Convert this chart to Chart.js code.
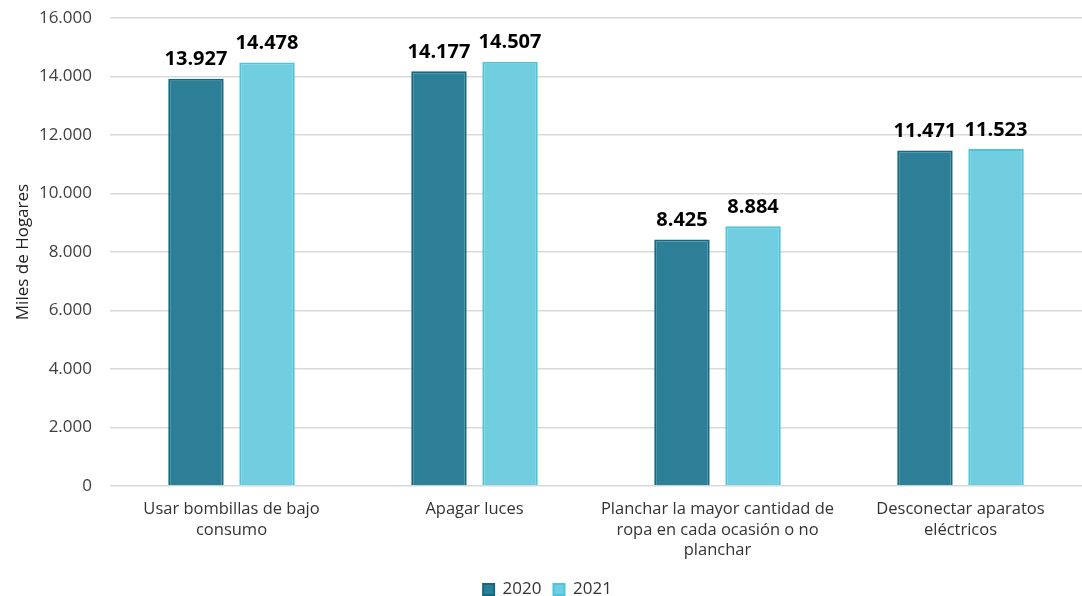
<!DOCTYPE html>
<html>
<head>
<meta charset="utf-8">
<script src="https://cdn.jsdelivr.net/npm/chart.js@4"></script>
<style>
  body { margin: 0; background: #fff; }
  #wrap { width: 1082px; height: 596px; }
</style>
</head>
<body>
<div id="wrap"><canvas id="myChart"></canvas></div>
<script>
const categories = [
    ["Usar bombillas de bajo", "consumo"],
    ["Apagar luces"],
    ["Planchar la mayor cantidad de", "ropa en cada ocasión o no", "planchar"],
    ["Desconectar aparatos", "eléctricos"]
];
const values2020 = [13927, 14177, 8425, 11471];
const values2021 = [14478, 14507, 8884, 11523];
const yTicks = [0, 2000, 4000, 6000, 8000, 10000, 12000, 14000, 16000];

// thousands separator with a dot
const fmt = v => String(v).replace(/\B(?=(\d{3})+(?!\d))/g, ".");

const barLabels = {
    id: "barLabels",
    afterDatasetsDraw(chart) {
        const ctx = chart.ctx;
        ctx.save();
        ctx.font = "bold 20px 'Open Sans'";
        ctx.fillStyle = "#000";
        ctx.textAlign = "center";
        ctx.textBaseline = "bottom";
        chart.data.datasets.forEach((ds, i) => {
            chart.getDatasetMeta(i).data.forEach((bar, j) => {
                ctx.fillText(fmt(ds.data[j]), bar.x, bar.y - 9);
            });
        });
        ctx.restore();
    }
};

const ctx = document.getElementById("myChart").getContext("2d");
new Chart(ctx, {
    type: "bar",
    data: {
        labels: categories,
        datasets: [{
            label: "2020",
            data: values2020,
            backgroundColor: "#2c7f96",
            borderColor: "#14687f",
            borderWidth: 2,
            borderSkipped: "bottom"
        }, {
            label: "2021",
            data: values2021,
            backgroundColor: "#71cde0",
            borderColor: "#4ec4db",
            borderWidth: 2,
            borderSkipped: "bottom"
        }]
    },
    options: {
        responsive: true,
        maintainAspectRatio: false,
        animation: false,
        layout: { padding: { top: 18, right: 0, left: 13, bottom: -12 } },
        datasets: { bar: { categoryPercentage: 0.585, barPercentage: 0.78 } },
        plugins: {
            legend: {
                position: "bottom",
                labels: {
                    font: { family: "Open Sans", size: 17 },
                    color: "#333",
                    boxWidth: 11,
                    boxHeight: 11,
                    padding: 12
                }
            },
            tooltip: { enabled: false }
        },
        scales: {
            x: {
                afterFit: s => { s.height = 83; s.paddingTop = 0; s.paddingBottom = 0; },
                grid: { display: false },
                border: { display: false },
                ticks: {
                    font: { family: "Open Sans", size: 16.5, lineHeight: 1.25 },
                    color: "#333",
                    maxRotation: 0,
                    padding: 5
                }
            },
            y: {
                min: 0,
                max: 16000,
                afterFit: s => { s.width = 97; s.paddingTop = 0; s.paddingBottom = 0; },
                afterBuildTicks: s => { s.ticks = yTicks.map(v => ({ value: v })); },
                grid: { color: "#d9d9d9", lineWidth: 1.5, drawTicks: false },
                border: { display: false },
                ticks: {
                    font: { family: "Open Sans", size: 17 },
                    color: "#404040",
                    padding: 18,
                    callback: v => fmt(v)
                },
                title: {
                    display: true,
                    text: "Miles de Hogares",
                    font: { family: "Open Sans", size: 17 },
                    color: "#222",
                    padding: 0
                }
            }
        }
    },
    plugins: [barLabels]
});
</script>
</body>
</html>
